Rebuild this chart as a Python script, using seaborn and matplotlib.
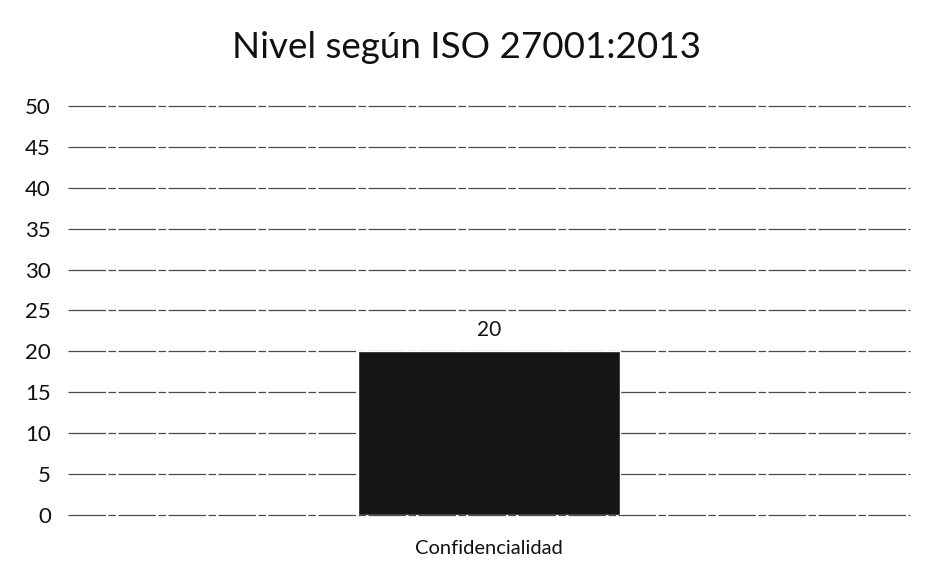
import matplotlib
matplotlib.use("Agg")
import matplotlib.pyplot as plt
import seaborn as sns
import pandas as pd

# datos del grafico
categorias = ["Confidencialidad"]
valores = [20]
ticks_y = [0, 5, 10, 15, 20, 25, 30, 35, 40, 45, 50]
titulo = "Nivel según ISO 27001:2013"

df = pd.DataFrame({"categoria": categorias, "valor": valores})

sns.set_theme(style="white")
plt.rcParams['font.family'] = ['Lato', 'DejaVu Sans']

fig = plt.figure(figsize=(9.27, 5.72), dpi=100)
ax = fig.add_axes([0.073, 0.0997, 0.909, 0.715])

sns.barplot(data=df, x="categoria", y="valor", color="#161616", width=0.31,
            saturation=1, ax=ax, zorder=3)

ax.set_ylim(0, 50)
ax.set_yticks(ticks_y)
ax.set_xlim(-0.5, 0.5)
# lineas de cuadricula (en el original son solidas, el escaneo las rompe)
ax.yaxis.grid(True, color="#4a4a4a", linewidth=0.9, linestyle=(0, (30, 2, 6, 2)), zorder=0)
for gl in ax.get_ygridlines():
    gl.set_clip_on(False)
ax.xaxis.grid(False)
for s in ax.spines.values():
    s.set_visible(False)
ax.tick_params(axis="y", labelsize=16, length=0, pad=12, colors="#111111")
ax.tick_params(axis="x", labelsize=14.5, length=0, pad=18, colors="#111111")
ax.set_xlabel("")
ax.set_ylabel("")

for cont in ax.containers:
    ax.bar_label(cont, labels=[str(v) for v in valores], padding=8, fontsize=15, color="#111111")

fig.suptitle(titulo, x=0.503, y=0.945, fontsize=26.5, color="#111111")

fig.savefig("out.png", dpi=100, facecolor="white")
